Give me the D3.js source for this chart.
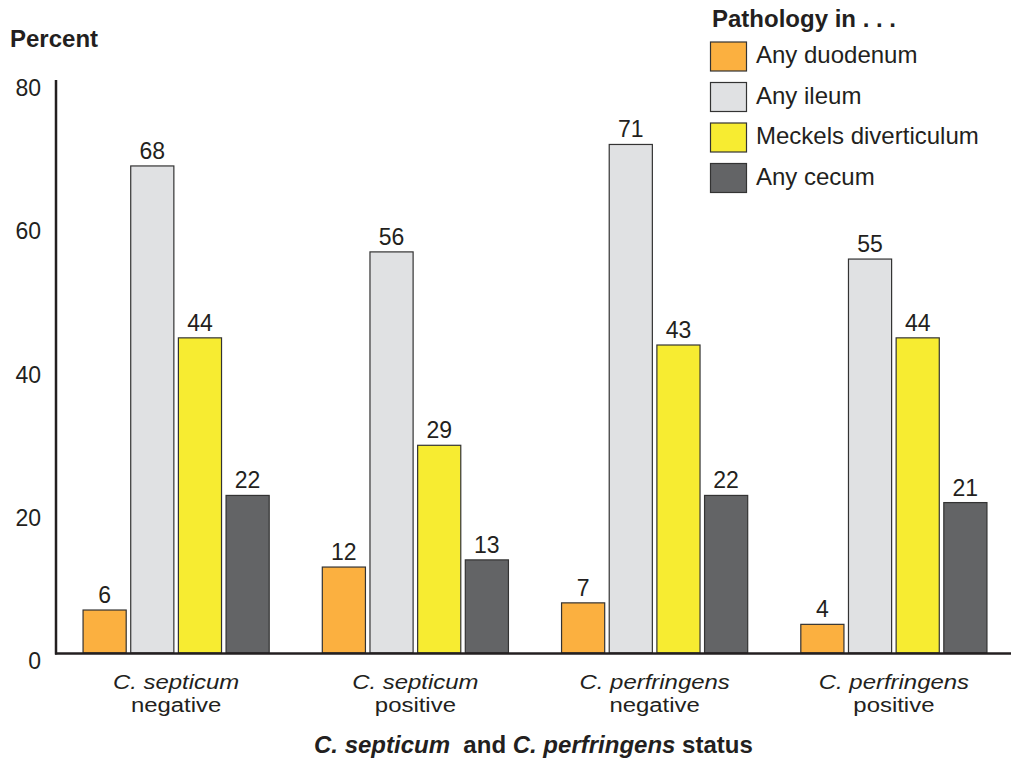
<!DOCTYPE html>
<html><head><meta charset="utf-8">
<script src="https://cdn.jsdelivr.net/npm/d3@7"></script>
<style>body{margin:0;background:#fff}svg{display:block;font-family:"Liberation Sans",Arial,sans-serif}</style>
</head><body><svg id="c" width="1011" height="763"></svg>
<script>
const groups = ["csn","csp","cpn","cpp"];
const groupLine1 = ["C. septicum","C. septicum","C. perfringens","C. perfringens"];
const groupLine2 = ["negative","positive","negative","positive"];
const series = ["Any duodenum","Any ileum","Meckels diverticulum","Any cecum"];
const colors = ["#FBB040","#E0E1E3","#F7EC31","#636466"];
const duodenum = [6,12,7,4];
const ileum = [68,56,71,55];
const meckels = [44,29,43,44];
const cecum = [22,13,22,21];
const yTicks = [0,20,40,60,80];
const valuesBySeries = [duodenum, ileum, meckels, cecum];

const svg = d3.select("#c");
const ink = "#231F20";
const y = d3.scaleLinear().domain([0,80]).range([653,80]);
const x0 = d3.scaleBand().domain(groups).range([56.5,1013.5]).paddingInner(0.222).paddingOuter(0.111);
const x1 = d3.scaleBand().domain(series).range([0,x0.bandwidth()]).paddingInner(0.095).paddingOuter(0);

// bars
groups.forEach((g,gi)=>{
  const gg = svg.append("g").attr("transform",`translate(${x0(g)},0)`);
  series.forEach((s,si)=>{
    const v = valuesBySeries[si][gi];
    gg.append("rect").attr("x",x1(s)).attr("y",y(v)).attr("width",x1.bandwidth()).attr("height",y(0)-y(v))
      .attr("fill",colors[si]).attr("stroke","#333").attr("stroke-width",1.2);
    gg.append("text").attr("x",x1(s)+x1.bandwidth()/2).attr("y",y(v)-7).attr("text-anchor","middle")
      .attr("font-size",23).attr("fill",ink).text(v);
  });
});

// axes
svg.append("line").attr("x1",56).attr("x2",56).attr("y1",y(80)).attr("y2",y(0)+1.5).attr("stroke",ink).attr("stroke-width",2.5);
svg.append("line").attr("x1",55).attr("x2",1011).attr("y1",y(0)+0.5).attr("y2",y(0)+0.5).attr("stroke",ink).attr("stroke-width",2.5);
svg.append("g").selectAll("text").data(yTicks).join("text")
  .attr("x",41).attr("y",d=>y(d)+16).attr("text-anchor","end").attr("font-size",23).attr("fill",ink).text(d=>d);

svg.append("text").attr("x",10).attr("y",47).attr("font-size",24).attr("font-weight","bold").attr("fill",ink).text("Percent");

// x labels (slightly stretched horizontally like the reference)
groups.forEach((g,gi)=>{
  const cx = x0(g)+x0.bandwidth()/2;
  svg.append("text").attr("transform",`translate(${cx},689) scale(1.14,1)`).attr("text-anchor","middle").attr("font-size",21).attr("font-style","italic").attr("fill",ink).text(groupLine1[gi]);
  svg.append("text").attr("transform",`translate(${cx},712) scale(1.14,1)`).attr("text-anchor","middle").attr("font-size",21).attr("fill",ink).text(groupLine2[gi]);
});
const t = svg.append("text").attr("x",314).attr("y",753).attr("font-size",24).attr("font-weight","bold").attr("fill",ink);
t.append("tspan").attr("font-style","italic").text("C. septicum");
t.append("tspan").text("\u00a0 and ");
t.append("tspan").attr("font-style","italic").text("C. perfringens");
t.append("tspan").text(" status");

// legend
svg.append("text").attr("x",712).attr("y",27).attr("font-size",24).attr("font-weight","bold").attr("fill",ink).text("Pathology in . . .");
series.forEach((s,si)=>{
  const yy = 42 + si*40.5;
  svg.append("rect").attr("x",710.5).attr("y",yy).attr("width",36).attr("height",29).attr("fill",colors[si]).attr("stroke","#333").attr("stroke-width",1.2);
  svg.append("text").attr("x",756).attr("y",yy+21).attr("font-size",24).attr("fill",ink).text(s);
});
</script></body></html>
